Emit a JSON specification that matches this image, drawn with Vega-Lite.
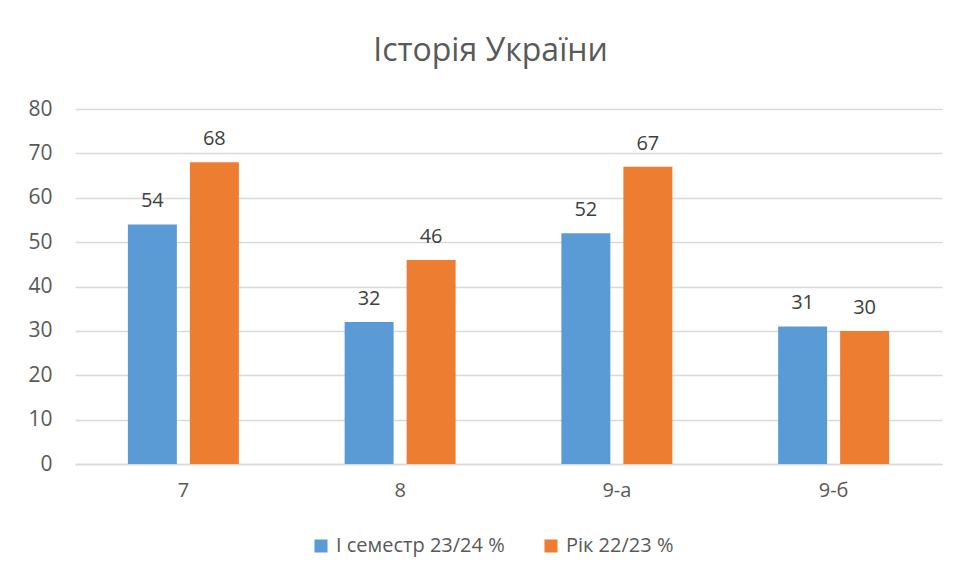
{
  "$schema": "https://vega.github.io/schema/vega-lite/v6.json",
  "autosize": "none",
  "width": 867,
  "height": 355,
  "padding": {"left": 75, "top": 109, "right": 17, "bottom": 113},
  "background": "white",
  "config": {
    "font": "Open Sans",
    "view": {"stroke": null}
  },
  "title": {
    "text": "Історія України",
    "fontSize": 32,
    "fontWeight": "normal",
    "color": "#595959",
    "anchor": "middle",
    "dx": -18,
    "offset": 30
  },
  "data": {
    "values": [
      {"class": "7", "series": "І семестр 23/24 %", "value": 54},
      {"class": "7", "series": "Рік 22/23 %", "value": 68},
      {"class": "8", "series": "І семестр 23/24 %", "value": 32},
      {"class": "8", "series": "Рік 22/23 %", "value": 46},
      {"class": "9-а", "series": "І семестр 23/24 %", "value": 52},
      {"class": "9-а", "series": "Рік 22/23 %", "value": 67},
      {"class": "9-б", "series": "І семестр 23/24 %", "value": 31},
      {"class": "9-б", "series": "Рік 22/23 %", "value": 30}
    ]
  },
  "encoding": {
    "x": {
      "field": "class",
      "type": "nominal",
      "sort": null,
      "scale": {"paddingInner": 0, "paddingOuter": 0},
      "axis": {
        "title": null,
        "labelAngle": 0,
        "labelFontSize": 20,
        "labelColor": "#595959",
        "labelPadding": 16,
        "ticks": false,
        "domainColor": "#d9d9d9",
        "domainWidth": 1.5,
        "grid": false
      }
    },
    "xOffset": {
      "field": "series",
      "type": "nominal",
      "sort": null,
      "scale": {"paddingInner": 0.21, "paddingOuter": 0.853}
    },
    "y": {
      "field": "value",
      "type": "quantitative",
      "scale": {"domain": [0, 80], "nice": false},
      "axis": {
        "title": null,
        "values": [0, 10, 20, 30, 40, 50, 60, 70, 80],
        "labelFontSize": 21,
        "labelColor": "#595959",
        "labelPadding": 23,
        "ticks": false,
        "domain": false,
        "gridColor": "#d9d9d9",
        "gridWidth": 1.5
      }
    }
  },
  "layer": [
    {
      "mark": {"type": "bar"},
      "encoding": {
        "color": {
          "field": "series",
          "type": "nominal",
          "sort": null,
          "scale": {"range": ["#5b9bd5", "#ed7d31"]},
          "legend": {
            "title": null,
            "orient": "none",
            "legendX": 236,
            "legendY": 427,
            "direction": "horizontal",
            "symbolType": "square",
            "symbolSize": 170,
            "symbolStrokeWidth": 0,
            "labelFontSize": 20,
            "labelLimit": 400,
            "labelColor": "#595959",
            "labelOffset": 5,
            "columnPadding": 36
          }
        }
      }
    },
    {
      "mark": {"type": "text", "baseline": "alphabetic", "dy": -17, "fontSize": 20, "color": "#404040"},
      "encoding": {
        "text": {"field": "value", "type": "quantitative"}
      }
    }
  ]
}
